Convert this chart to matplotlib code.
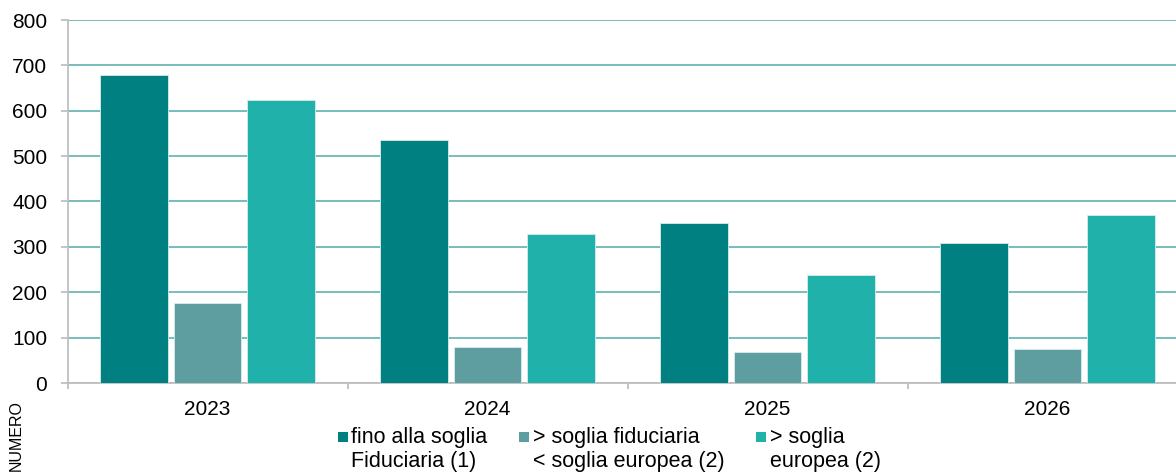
import numpy as np
import matplotlib.pyplot as plt
from matplotlib.patches import Rectangle

plt.rcParams['font.family'] = ['Liberation Sans', 'DejaVu Sans']

# dati
anni = ['2023', '2024', '2025', '2026']
fino_fiduciaria = [679, 535, 352, 308]
sopra_fiduciaria = [176, 79, 68, 74]
sopra_europea = [624, 328, 239, 370]

etichette = ['fino alla soglia\nFiduciaria (1)',
             '> soglia fiduciaria\n< soglia europea (2)',
             '> soglia\neuropea (2)']
colori = ['#008080', '#5F9EA0', '#20B2AA']


# quadratino allineato alla prima riga dell'etichetta
class QuadratoInAlto:
    def __init__(self, colore):
        self.colore = colore

    def legend_artist(self, legend, orig_handle, fontsize, handlebox):
        x0, y0 = handlebox.xdescent, handlebox.ydescent
        w, h = handlebox.width, handlebox.height
        lato = 0.47 * fontsize
        r = Rectangle((-x0 + w - lato, -y0 + h - lato + 0.12 * fontsize), lato, lato,
                      facecolor=self.colore, edgecolor='none',
                      transform=handlebox.get_transform())
        handlebox.add_artist(r)
        return r


fig = plt.figure(figsize=(11.76, 4.73), dpi=100)
ax = fig.add_axes([67.5 / 1176, 90 / 473, 1120 / 1176, 363 / 473])

x = np.arange(len(anni))
w = 0.24
passo = 0.2625
serie = [fino_fiduciaria, sopra_fiduciaria, sopra_europea]
barre = []
for i, (vals, col) in enumerate(zip(serie, colori)):
    b = ax.bar(x + (i - 1) * passo, vals, width=w, color=col,
               edgecolor='#D8ECEC', linewidth=0.6, zorder=3)
    barre.append(b)

ax.set_xlim(-0.5, len(anni) - 0.5)
ax.set_ylim(0, 800)
ax.set_yticks(range(0, 801, 100))
ax.yaxis.grid(True, color='#6DB5B5', linewidth=1.3, zorder=0)
ax.set_axisbelow(True)

# tick delle categorie ai bordi
ax.set_xticks(np.arange(-0.5, len(anni)), minor=False)
ax.set_xticklabels([])
ax.set_xticks(x, minor=True)
ax.set_xticklabels(anni, minor=True)
ax.tick_params(axis='x', which='minor', length=0, labelsize=15, pad=12)
ax.tick_params(axis='x', which='major', length=4.5, color='#BFBFBF', width=1.3)
ax.tick_params(axis='y', length=5, color='#BFBFBF', width=1.3, labelsize=15, pad=9.5)

for s in ['top', 'right']:
    ax.spines[s].set_visible(False)
for s in ['left', 'bottom']:
    ax.spines[s].set_color('#BFBFBF')
    ax.spines[s].set_linewidth(1.3)

handles = [b[0] for b in barre]
fig.legend(handles, etichette, loc='upper left', bbox_to_anchor=(332 / 1176, 1 - 427 / 473),
           ncol=3, frameon=False, fontsize=15.5, handlelength=0.75, handleheight=2.0,
           handletextpad=0.15, columnspacing=1.2, borderaxespad=0, borderpad=0,
           labelspacing=0.1,
           handler_map={h: QuadratoInAlto(c) for h, c in zip(handles, colori)})

fig.text(16 / 1176, 1 - 436 / 473, 'NUMERO', rotation=90, fontsize=11.5,
         ha='center', va='center')

fig.savefig('out.png', dpi=100)
